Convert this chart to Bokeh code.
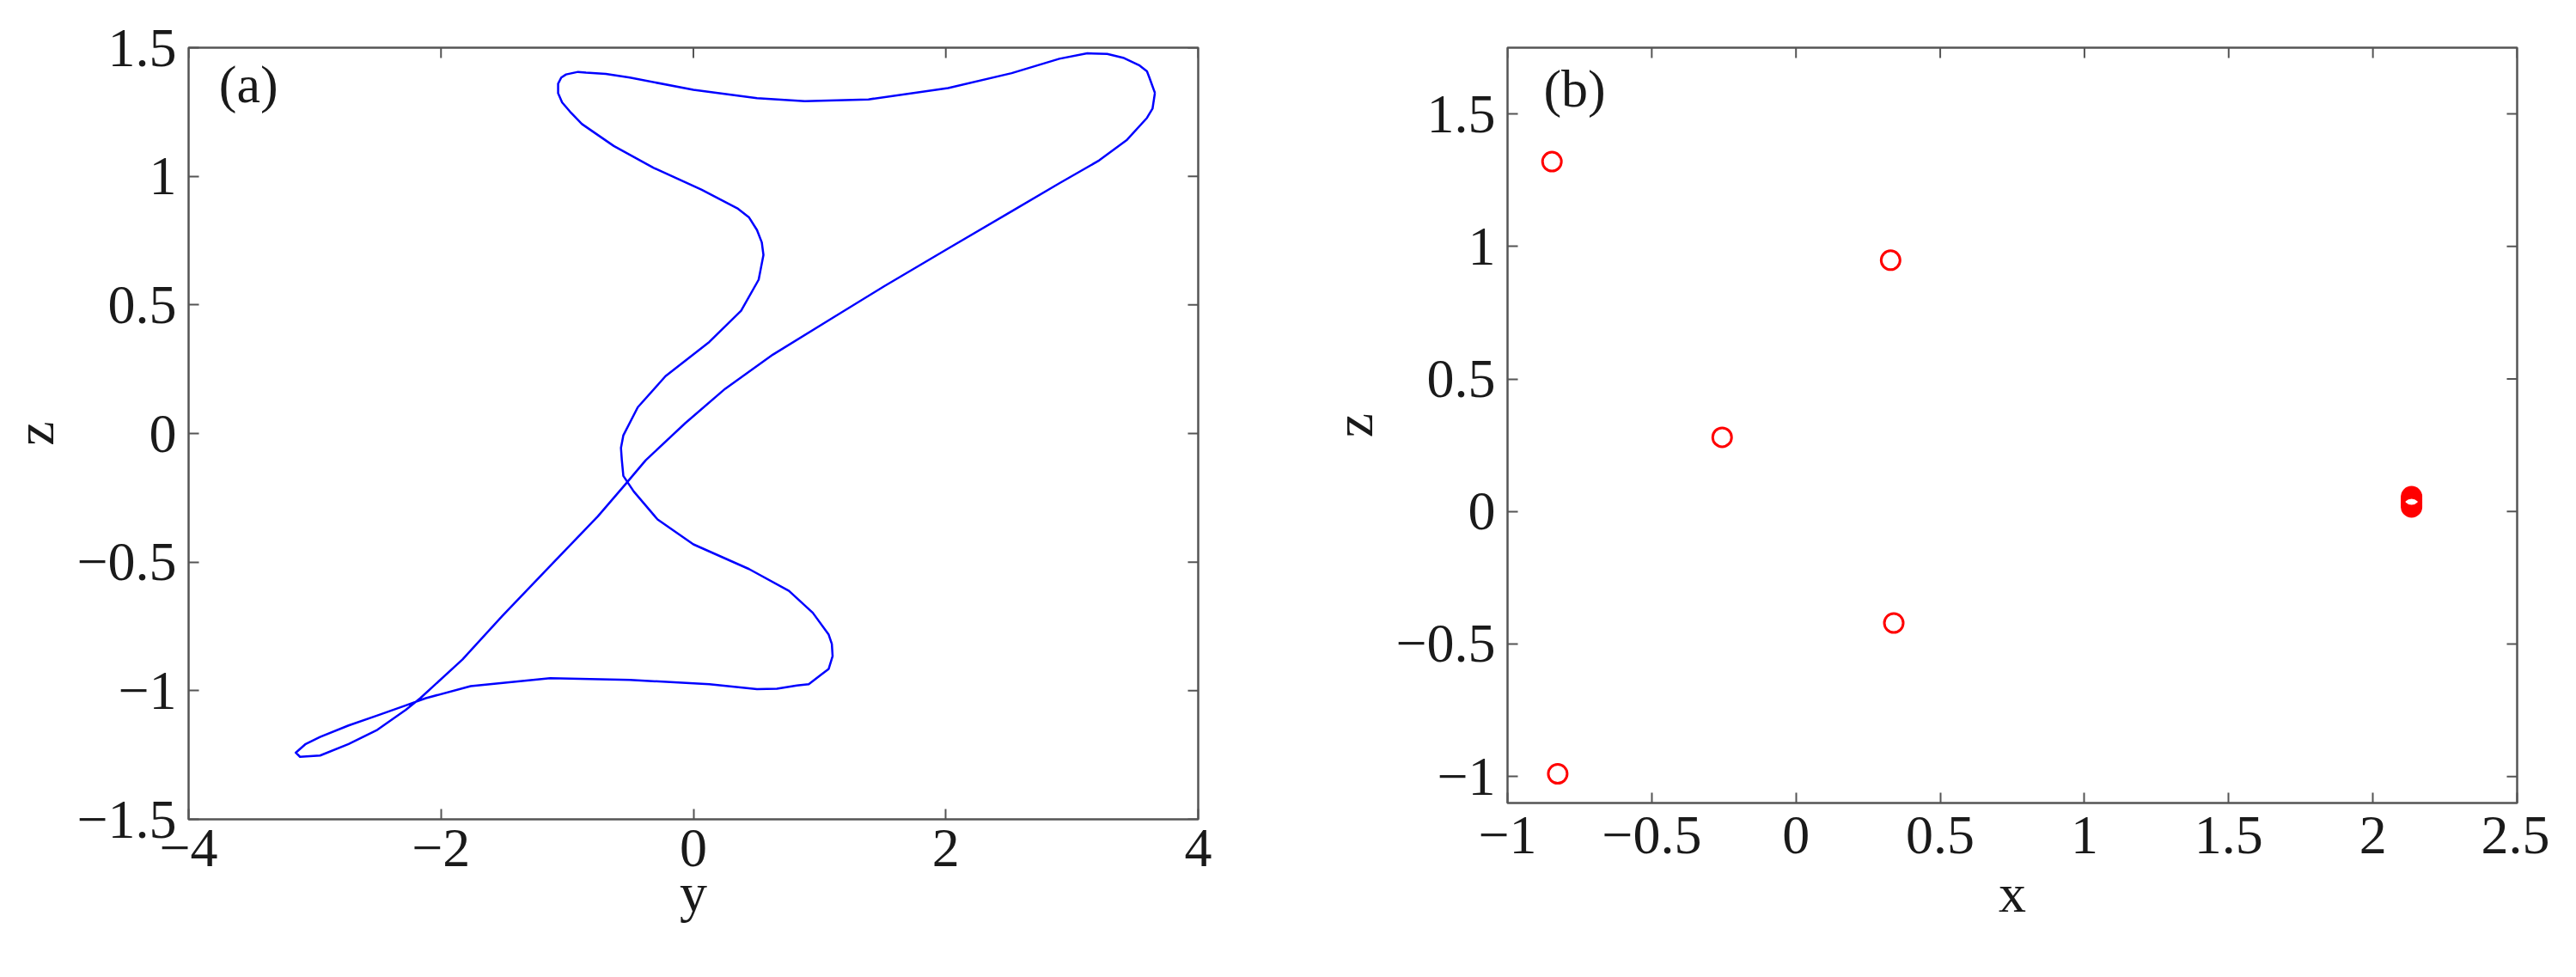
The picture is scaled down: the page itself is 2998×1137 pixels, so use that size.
import math
from bokeh.plotting import figure
from bokeh.layouts import row
from bokeh.models import Range1d, FixedTicker, Label
from bokeh.embed import file_html
from bokeh.resources import INLINE

# ---------------- data ----------------
# panel (a): periodic orbit projected on the (y, z) plane
orbit_y = [3.657, 3.638, 3.594, 3.436, 3.216, 2.900, 2.522, 2.018, 1.513, 1.072, 0.631,
           0.252, -0.063, -0.378, -0.536, -0.757, -1.135, -1.513, -1.829, -2.164,
           -2.278, -2.504, -2.732, -2.958, -3.117, -3.151, -3.072, -2.958, -2.732,
           -2.504, -2.278, -2.120, -1.765, -1.135, -0.504, 0.126, 0.504, 0.662, 0.820,
           0.914, 1.009, 1.072, 1.103, 1.097, 1.072, 0.946, 0.757, 0.441, 0.0, -0.284,
           -0.473, -0.555, -0.567, -0.574, -0.555, -0.441, -0.221, 0.126, 0.378, 0.517,
           0.536, 0.555, 0.542, 0.504, 0.441, 0.347, 0.063, -0.315, -0.631, -0.883,
           -0.977, -1.040, -1.072, -1.072, -1.047, -1.009, -0.914, -0.851, -0.694,
           -0.504, 0.0, 0.504, 0.883, 1.387, 2.018, 2.522, 2.900, 3.121, 3.279, 3.405,
           3.531, 3.594, 3.613, 3.657]
orbit_z = [1.324, 1.263, 1.227, 1.142, 1.062, 0.973, 0.864, 0.719, 0.573, 0.440, 0.307,
           0.174, 0.041, -0.104, -0.196, -0.322, -0.515, -0.709, -0.878, -1.029,
           -1.074, -1.152, -1.207, -1.252, -1.257, -1.241, -1.207, -1.180, -1.135,
           -1.096, -1.057, -1.029, -0.982, -0.951, -0.958, -0.975, -0.994, -0.992, -0.980,
           -0.975, -0.939, -0.915, -0.866, -0.818, -0.782, -0.697, -0.612, -0.527,
           -0.431, -0.334, -0.225, -0.165, -0.104, -0.056, -0.007, 0.102, 0.223, 0.356,
           0.477, 0.598, 0.646, 0.694, 0.743, 0.791, 0.840, 0.876, 0.948, 1.033, 1.118,
           1.203, 1.251, 1.287, 1.323, 1.360, 1.384, 1.396, 1.406, 1.403, 1.398, 1.384,
           1.336, 1.304, 1.292, 1.299, 1.343, 1.401, 1.457, 1.478, 1.476, 1.461, 1.432,
           1.408, 1.384, 1.324]

# panel (b): Poincare section points (x, z)
section_x = [-0.846, 0.328, -0.256, 0.339, -0.826,
             2.134, 2.134, 2.134, 2.134, 2.134, 2.134, 2.134]
section_z = [1.320, 0.948, 0.280, -0.421, -0.990,
             0.017, 0.024, 0.030, 0.037, 0.043, 0.050, 0.056]

a_xticks = [-4, -2, 0, 2, 4]
a_xlabels = ["\u22124", "\u22122", "0", "2", "4"]
a_zticks = [-1.5, -1, -0.5, 0, 0.5, 1, 1.5]
a_zlabels = ["\u22121.5", "\u22121", "\u22120.5", "0", "0.5", "1", "1.5"]
b_xticks = [-1, -0.5, 0, 0.5, 1, 1.5, 2, 2.5]
b_xlabels = ["\u22121", "\u22120.5", "0", "0.5", "1", "1.5", "2", "2.5"]
b_zticks = [-1, -0.5, 0, 0.5, 1, 1.5]
b_zlabels = ["\u22121", "\u22120.5", "0", "0.5", "1", "1.5"]

A_XR = (-4, 4)
A_ZR = (-1.5, 1.5)
B_XR = (-1, 2.5)
B_ZR = (-1.1, 1.75)

FONT = "Liberation Serif"
FS = "64px"
FRAME = "#555555"
TXT = "#1a1a1a"


def style_axis(ax, ticks, labels, standoff, label, label_standoff):
    ax.ticker = FixedTicker(ticks=ticks)
    ax.major_label_overrides = {t: l for t, l in zip(ticks, labels)}
    ax.major_tick_in = 12
    ax.major_tick_out = 0
    ax.minor_tick_line_color = None
    ax.major_tick_line_color = FRAME
    ax.major_tick_line_width = 2
    ax.axis_line_color = None
    ax.major_label_text_font = FONT
    ax.major_label_text_font_size = FS
    ax.major_label_text_color = TXT
    ax.major_label_standoff = standoff
    ax.axis_label = label
    ax.axis_label_standoff = label_standoff
    ax.axis_label_text_font = FONT
    ax.axis_label_text_font_size = FS
    ax.axis_label_text_font_style = "normal"
    ax.axis_label_text_color = TXT


def make_fig(fw, fh, xr, yr, borders):
    left, right, top, bottom = borders
    p = figure(frame_width=fw, frame_height=fh,
               x_range=Range1d(*xr), y_range=Range1d(*yr),
               output_backend="svg", toolbar_location=None,
               min_border_left=left, min_border_right=right,
               min_border_top=top, min_border_bottom=bottom)
    p.grid.visible = False
    p.outline_line_color = FRAME
    p.outline_line_width = 2.5
    p.background_fill_color = "white"
    p.border_fill_color = "white"
    return p


def box_ticks(p, xr, yr, xt, yt):
    # inward ticks on the top and right edges of the box (MATLAB style)
    p.scatter(xt, [yr[1]] * len(xt), marker="dash", angle=math.pi / 2, size=24,
              line_color=FRAME, line_width=2)
    p.scatter([xr[1]] * len(yt), yt, marker="dash", size=24,
              line_color=FRAME, line_width=2)


# ---------------- panel (a) ----------------
pa = make_fig(1175, 898, A_XR, A_ZR, (219, 98, 55, 160))
style_axis(pa.xaxis[0], a_xticks, a_xlabels, 12, "y", -8)
style_axis(pa.yaxis[0], a_zticks, a_zlabels, 14, "z", 10)
box_ticks(pa, A_XR, A_ZR, a_xticks, a_zticks)
pa.line(orbit_y, orbit_z, line_color="#0000ff", line_width=2.5, line_join="round")
pa.add_layout(Label(x=-3.76, y=1.47, text="(a)", text_font=FONT, text_font_size="62px",
                    text_baseline="top", text_align="left", text_color=TXT))

# ---------------- panel (b) ----------------
pb = make_fig(1175, 879, B_XR, B_ZR, (262, 38, 54, 180))
style_axis(pb.xaxis[0], b_xticks, b_xlabels, 16, "x", 8)
style_axis(pb.yaxis[0], b_zticks, b_zlabels, 14, "z", 10)
box_ticks(pb, B_XR, B_ZR, b_xticks, b_zticks)
pb.scatter(section_x, section_z, marker="circle", size=22, fill_color=None,
           line_color="#ff0000", line_width=3)
pb.add_layout(Label(x=-0.875, y=1.705, text="(b)", text_font=FONT, text_font_size="62px",
                    text_baseline="top", text_align="left", text_color=TXT))

layout = row(pa, pb)
open("out.html", "w").write(file_html(layout, INLINE))
